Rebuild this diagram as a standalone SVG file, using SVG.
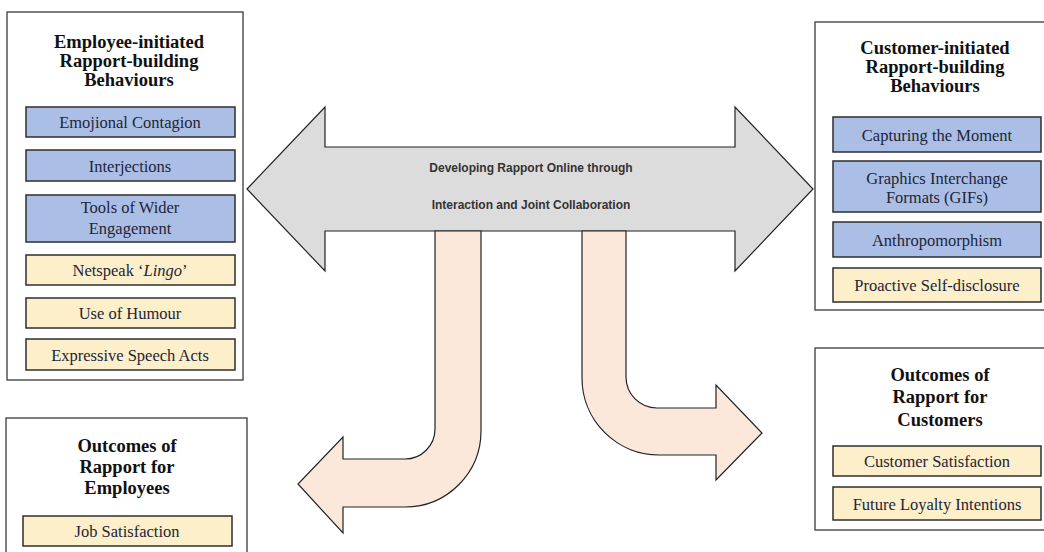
<svg xmlns="http://www.w3.org/2000/svg" width="1044" height="552" viewBox="0 0 1044 552">
<style>
.outer{fill:#ffffff;stroke:#3a3a3a;stroke-width:1.3}
.blue{fill:#abbee5;stroke:#2e2e2e;stroke-width:1.5}
.yel{fill:#fcefca;stroke:#2e2e2e;stroke-width:1.5}
.title{font-family:"Liberation Serif",serif;font-weight:bold;font-size:18.5px;fill:#111;text-anchor:middle}
.item{font-family:"Liberation Serif",serif;font-size:16.5px;fill:#1e2538;text-anchor:middle}
.arr{fill:#fbe8da;stroke:#222;stroke-width:1.2;stroke-linejoin:miter}
.big{fill:#dcdcdc;stroke:#222;stroke-width:1.2}
.mid{font-family:"Liberation Sans",sans-serif;font-weight:bold;font-size:12px;fill:#333;text-anchor:middle}
</style>
<rect width="1044" height="552" fill="#ffffff"/>
<g id="connectors">
<path class="big" d="M247,189 L325,107 L325,147 L735,147 L735,107 L813,189 L735,271 L735,231 L325,231 L325,271 Z"/>
<path class="arr" d="M435,231 L481,231 L481,431 A76,76 0 0 1 405,507 L343,507 L343,533 L298,484 L343,437 L343,459 L405,459 A30,30 0 0 0 435,429 Z"/>
<path class="arr" d="M582,231 L626,231 L626,377 A31,31 0 0 0 657,408 L716,408 L716,385 L762,433 L716,480 L716,455 L659,455 A77,77 0 0 1 582,378 Z"/>
<text class="mid" x="531" y="172">Developing Rapport  Online through</text>
<text class="mid" x="531" y="209">Interaction and Joint Collaboration</text>
</g>
<g id="employee-initiated">
<rect class="outer" x="7" y="12" width="236" height="368"/>
<text class="title" x="129" y="48">Employee-initiated</text>
<text class="title" x="129" y="67">Rapport-building</text>
<text class="title" x="129" y="86">Behaviours</text>
<rect class="blue" x="26" y="107" width="209" height="30"/>
<text class="item" x="130" y="128">Emojional Contagion</text>
<rect class="blue" x="26" y="150" width="209" height="31"/>
<text class="item" x="130" y="171.5">Interjections</text>
<rect class="blue" x="26" y="195" width="209" height="47"/>
<text class="item" x="130" y="213">Tools of Wider</text>
<text class="item" x="130" y="234">Engagement</text>
<rect class="yel" x="26" y="255" width="209" height="30"/>
<text class="item" x="130" y="276">Netspeak ‘<tspan font-style="italic">Lingo</tspan>’</text>
<rect class="yel" x="26" y="298" width="209" height="30"/>
<text class="item" x="130" y="319">Use of Humour</text>
<rect class="yel" x="26" y="339" width="209" height="31"/>
<text class="item" x="130" y="360.5">Expressive Speech Acts</text>
</g>
<g id="customer-initiated">
<rect class="outer" x="815" y="22" width="236" height="288"/>
<text class="title" x="935" y="54">Customer-initiated</text>
<text class="title" x="935" y="73">Rapport-building</text>
<text class="title" x="935" y="92">Behaviours</text>
<rect class="blue" x="833" y="117" width="208" height="35"/>
<text class="item" x="937" y="140.5">Capturing the Moment</text>
<rect class="blue" x="833" y="161" width="208" height="51"/>
<text class="item" x="937" y="184">Graphics Interchange</text>
<text class="item" x="937" y="203">Formats (GIFs)</text>
<rect class="blue" x="833" y="222" width="208" height="35"/>
<text class="item" x="937" y="245.5">Anthropomorphism</text>
<rect class="yel" x="833" y="268" width="208" height="34"/>
<text class="item" x="937" y="291">Proactive Self-disclosure</text>
</g>
<g id="outcomes-employees">
<rect class="outer" x="6" y="418" width="241" height="150"/>
<text class="title" x="127" y="452">Outcomes of</text>
<text class="title" x="127" y="473">Rapport for</text>
<text class="title" x="127" y="494">Employees</text>
<rect class="yel" x="23" y="516" width="209" height="30"/>
<text class="item" x="127" y="537">Job Satisfaction</text>
</g>
<g id="outcomes-customers">
<rect class="outer" x="815" y="348" width="236" height="182"/>
<text class="title" x="940" y="381">Outcomes of</text>
<text class="title" x="940" y="403">Rapport for</text>
<text class="title" x="940" y="426">Customers</text>
<rect class="yel" x="833" y="446" width="208" height="30"/>
<text class="item" x="937" y="467">Customer Satisfaction</text>
<rect class="yel" x="833" y="487" width="208" height="33"/>
<text class="item" x="937" y="509.5">Future Loyalty Intentions</text>
</g>
</svg>
